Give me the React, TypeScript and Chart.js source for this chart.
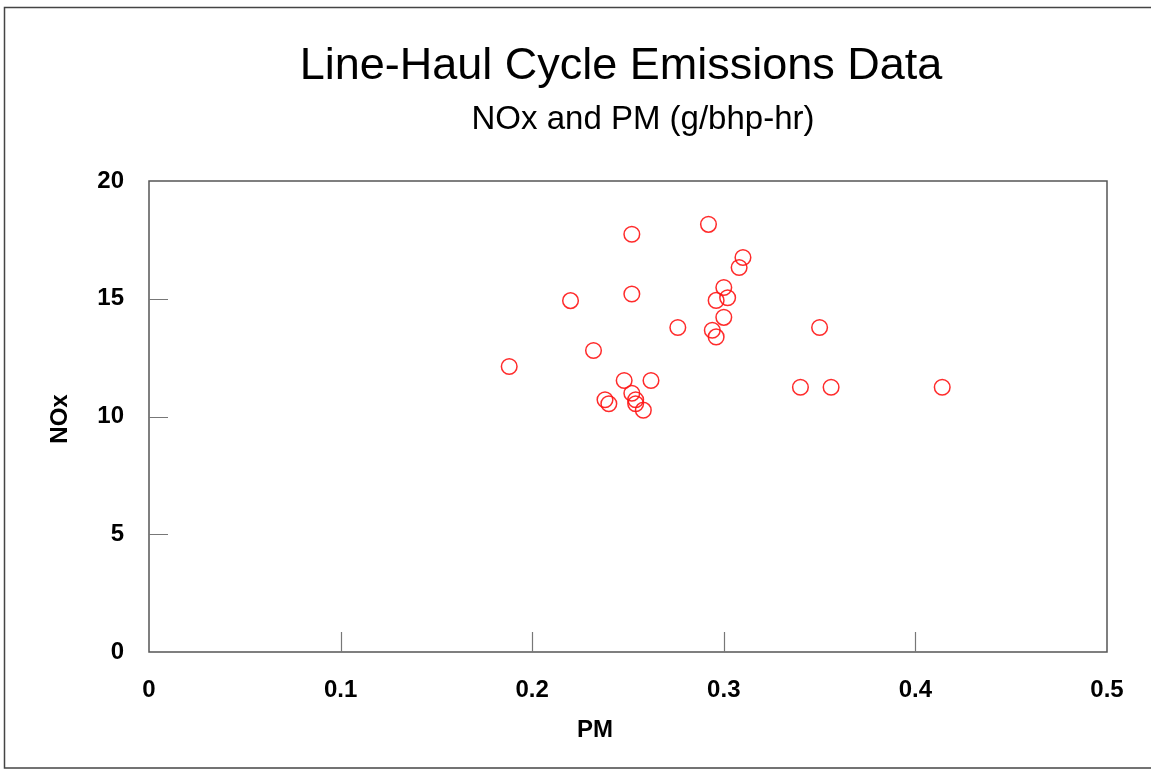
import { useEffect, useRef } from "react";
import { Chart, registerables } from "chart.js";

Chart.register(...registerables);

const TITLE = "Line-Haul Cycle Emissions Data";
const SUBTITLE = "NOx and PM (g/bhp-hr)";
const X_LABEL = "PM";
const Y_LABEL = "NOx";

const pmValues = [
  0.188, 0.220, 0.252, 0.252, 0.292, 0.310, 0.308, 0.300, 0.302, 0.296,
  0.300, 0.276, 0.294, 0.296, 0.232, 0.248, 0.262, 0.252, 0.238, 0.240,
  0.254, 0.254, 0.258, 0.350, 0.340, 0.356, 0.414,
];
const noxValues = [
  12.12, 14.92, 17.74, 15.2, 18.16, 16.75, 16.33, 15.48, 15.04, 14.93,
  14.21, 13.78, 13.66, 13.38, 12.8, 11.53, 11.53, 10.99, 10.71, 10.54,
  10.71, 10.54, 10.27, 13.78, 11.24, 11.24, 11.24,
];
const xTicks = [0, 0.1, 0.2, 0.3, 0.4, 0.5];
const yTicks = [0, 5, 10, 15, 20];
const xInnerTicks = [0.1, 0.2, 0.3, 0.4];
const yInnerTicks = [5, 10, 15];

const FONT = "Arial, 'Liberation Sans', sans-serif";

export default function App() {
  const ref = useRef<HTMLCanvasElement>(null);

  useEffect(() => {
    const canvas = ref.current;
    if (!canvas) return;

    const decor = {
      id: "decor",
      beforeDraw(chart: any) {
        const ctx = chart.ctx;
        ctx.save();
        ctx.fillStyle = "#ffffff";
        ctx.fillRect(0, 0, chart.width, chart.height);
        ctx.strokeStyle = "#444444";
        ctx.lineWidth = 1.5;
        ctx.strokeRect(4.5, 7.5, chart.width + 10, chart.height - 8.5);
        ctx.restore();
      },
      afterDraw(chart: any) {
        const ctx = chart.ctx;
        const a = chart.chartArea;
        const xs = chart.scales.x;
        const ys = chart.scales.y;
        ctx.save();
        // plot frame
        ctx.strokeStyle = "#555555";
        ctx.lineWidth = 1.5;
        ctx.strokeRect(a.left, a.top, a.right - a.left, a.bottom - a.top);
        // inward ticks
        ctx.strokeStyle = "#777777";
        ctx.lineWidth = 1.2;
        ctx.beginPath();
        xInnerTicks.forEach((v) => {
          const px = Math.round(xs.getPixelForValue(v)) + 0.5;
          ctx.moveTo(px, a.bottom);
          ctx.lineTo(px, a.bottom - 20);
        });
        yInnerTicks.forEach((v) => {
          const py = Math.round(ys.getPixelForValue(v)) + 0.5;
          ctx.moveTo(a.left, py);
          ctx.lineTo(a.left + 19, py);
        });
        ctx.stroke();
        // titles
        ctx.fillStyle = "#000000";
        ctx.textAlign = "center";
        ctx.textBaseline = "alphabetic";
        ctx.font = `45px ${FONT}`;
        ctx.fillText(TITLE, 621, 79);
        ctx.font = `33px ${FONT}`;
        ctx.fillText(SUBTITLE, 643, 129);
        // axis labels
        ctx.font = `bold 24px ${FONT}`;
        ctx.fillText(X_LABEL, 595, 737);
        ctx.translate(67, 419);
        ctx.rotate(-Math.PI / 2);
        ctx.fillText(Y_LABEL, 0, 0);
        ctx.restore();
      },
    };

    const tickFont = { family: FONT, size: 24, weight: "bold" as const };

    const chart = new Chart(canvas, {
      type: "scatter",
      data: {
        datasets: [
          {
            data: pmValues.map((x, i) => ({ x, y: noxValues[i] })),
            pointStyle: "circle",
            pointRadius: 7.8,
            pointHoverRadius: 7.8,
            pointBorderColor: "rgba(255,20,20,0.9)",
            pointBackgroundColor: "rgba(0,0,0,0)",
            pointBorderWidth: 1.5,
            showLine: false,
          },
        ],
      },
      options: {
        animation: false,
        responsive: false,
        layout: { padding: { top: 181, right: 44, left: 0, bottom: 0 } },
        plugins: {
          legend: { display: false },
          tooltip: { enabled: false },
          title: { display: false },
        },
        scales: {
          x: {
            type: "linear",
            min: 0,
            max: 0.5,
            afterBuildTicks: (s: any) => {
              s.ticks = xTicks.map((v) => ({ value: v }));
            },
            afterFit: (s: any) => {
              s.height = 117;
            },
            grid: { display: false },
            border: { display: false },
            ticks: {
              padding: 16,
              color: "#000000",
              font: tickFont,
              maxRotation: 0,
              autoSkip: false,
              callback: (v: any) => String(v),
            },
          },
          y: {
            type: "linear",
            min: 0,
            max: 20,
            afterBuildTicks: (s: any) => {
              s.ticks = yTicks.map((v) => ({ value: v }));
            },
            afterFit: (s: any) => {
              s.width = 149;
            },
            grid: { display: false },
            border: { display: false },
            ticks: {
              padding: 17,
              color: "#000000",
              font: tickFont,
              autoSkip: false,
              callback: (v: any) => String(v),
            },
          },
        },
      },
      plugins: [decor],
    });

    return () => chart.destroy();
  }, []);

  return (
    <div style={{ position: "fixed", left: 0, top: 0, width: 1151, height: 769 }}>
      <canvas ref={ref} width={1151} height={769} style={{ display: "block" }} />
    </div>
  );
}
